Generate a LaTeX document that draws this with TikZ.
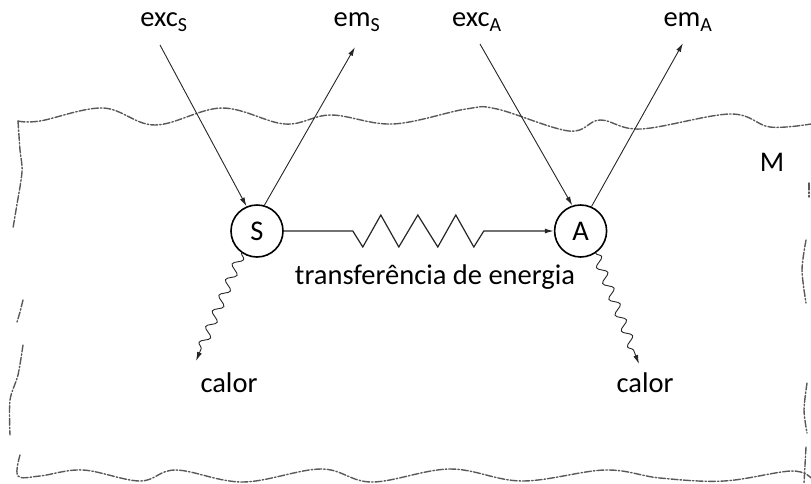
\documentclass[tikz,border=0pt]{standalone}
\usepackage{fontspec}
\setmainfont{Carlito}
\usetikzlibrary{arrows.meta, positioning, decorations.pathmorphing}

\begin{document}
\begin{tikzpicture}[
  x=1pt, y=-1pt,
  font=\fontsize{28.5}{34}\selectfont,
  node distance=270pt,
  atom/.style={circle, draw=black, line width=1.6pt, minimum size=52pt, inner sep=0pt},
  lbl/.style={inner sep=1pt},
  ray/.style={-{Latex[length=9pt, width=5pt]}, line width=0.9pt, draw=black!85},
  heat/.style={ray, decorate, decoration={snake, segment length=17pt, amplitude=4.5pt, post length=10pt}},
  border/.style={draw=black!65, line width=1.4pt, dash pattern=on 7pt off 2pt on 1.5pt off 2pt, line cap=round}
]
\useasboundingbox (0,0) rectangle (811,483);

% medium M
\draw[border] plot[smooth, tension=0.6] coordinates {(18,121) (40,121) (103,108) (155,125) (222,108) (285,124) (331,115) (393,124) (466,109) (497,109) (569,131) (600,120) (641,129) (730,114) (770,127) (811,124)};
\draw[border] plot[smooth] coordinates {(18,121) (20,150) (22,172) (16,210) (13,228)};
\draw[border] plot[smooth] coordinates {(23,300) (20,312) (17,322)};
\draw[border] plot[smooth] coordinates {(23,345) (18,375) (10,400) (10,435)};
\draw[border] plot[smooth, tension=0.6] coordinates {(20,455) (18,476) (40,476) (83,470) (140,481) (176,470) (243,482) (321,469) (372,482) (450,469) (522,481) (605,470) (660,478) (724,481) (791,471) (811,478)};
\draw[border] (809,183) -- (809,197);
\draw[border] plot[smooth] coordinates {(806,240) (802,270) (806,303)};
\draw[border] plot[smooth] coordinates {(807,383) (804,410) (807,433)};
\draw[border] plot[smooth] coordinates {(806,447) (804,483)};
\node[lbl] (M) at (772,162) {M};

% molecules
\node[atom] (S) at (257,231) {S};
\node[atom, right=270pt of S] (A) {A};
\node[lbl] (transf) at (435,277) {transferência de energia};

% labels
\node[lbl] (excS) at (164,22) {exc\textsubscript{S}};
\node[lbl] (emS) at (357,22) {em\textsubscript{S}};
\node[lbl] (excA) at (477,22) {exc\textsubscript{A}};
\node[lbl] (emA) at (688,22) {em\textsubscript{A}};
\node[lbl] (calS) at (229,383) {calor};
\node[lbl] (calA) at (645,383) {calor};

\coordinate (excS0) at (160,45);
\coordinate (emS1) at (355,47);
\coordinate (excA0) at (480,44);
\coordinate (emA1) at (683,43);
\coordinate (calS1) at (196,361);
\coordinate (calA1) at (639,364);

% light in and out
\draw[ray] (excS0) -- (S.113);
\draw[ray] (S.74) -- (emS1);
\draw[ray] (excA0) -- (A.108);
\draw[ray] (A.66) -- (emA1);

% heat
\draw[heat] (S.235) -- (calS1);
\draw[heat] (A.304) -- (calA1);

% transfer
\draw[ray, line width=1.2pt] (S.east) -- ++(69,0) -- ++(10,16) -- ++(18,-32) -- ++(18,32) -- ++(19,-32)
  -- ++(20,32) -- ++(18,-32) -- ++(18,32) -- ++(10,-16) -- (A.west);
\end{tikzpicture}
\end{document}
